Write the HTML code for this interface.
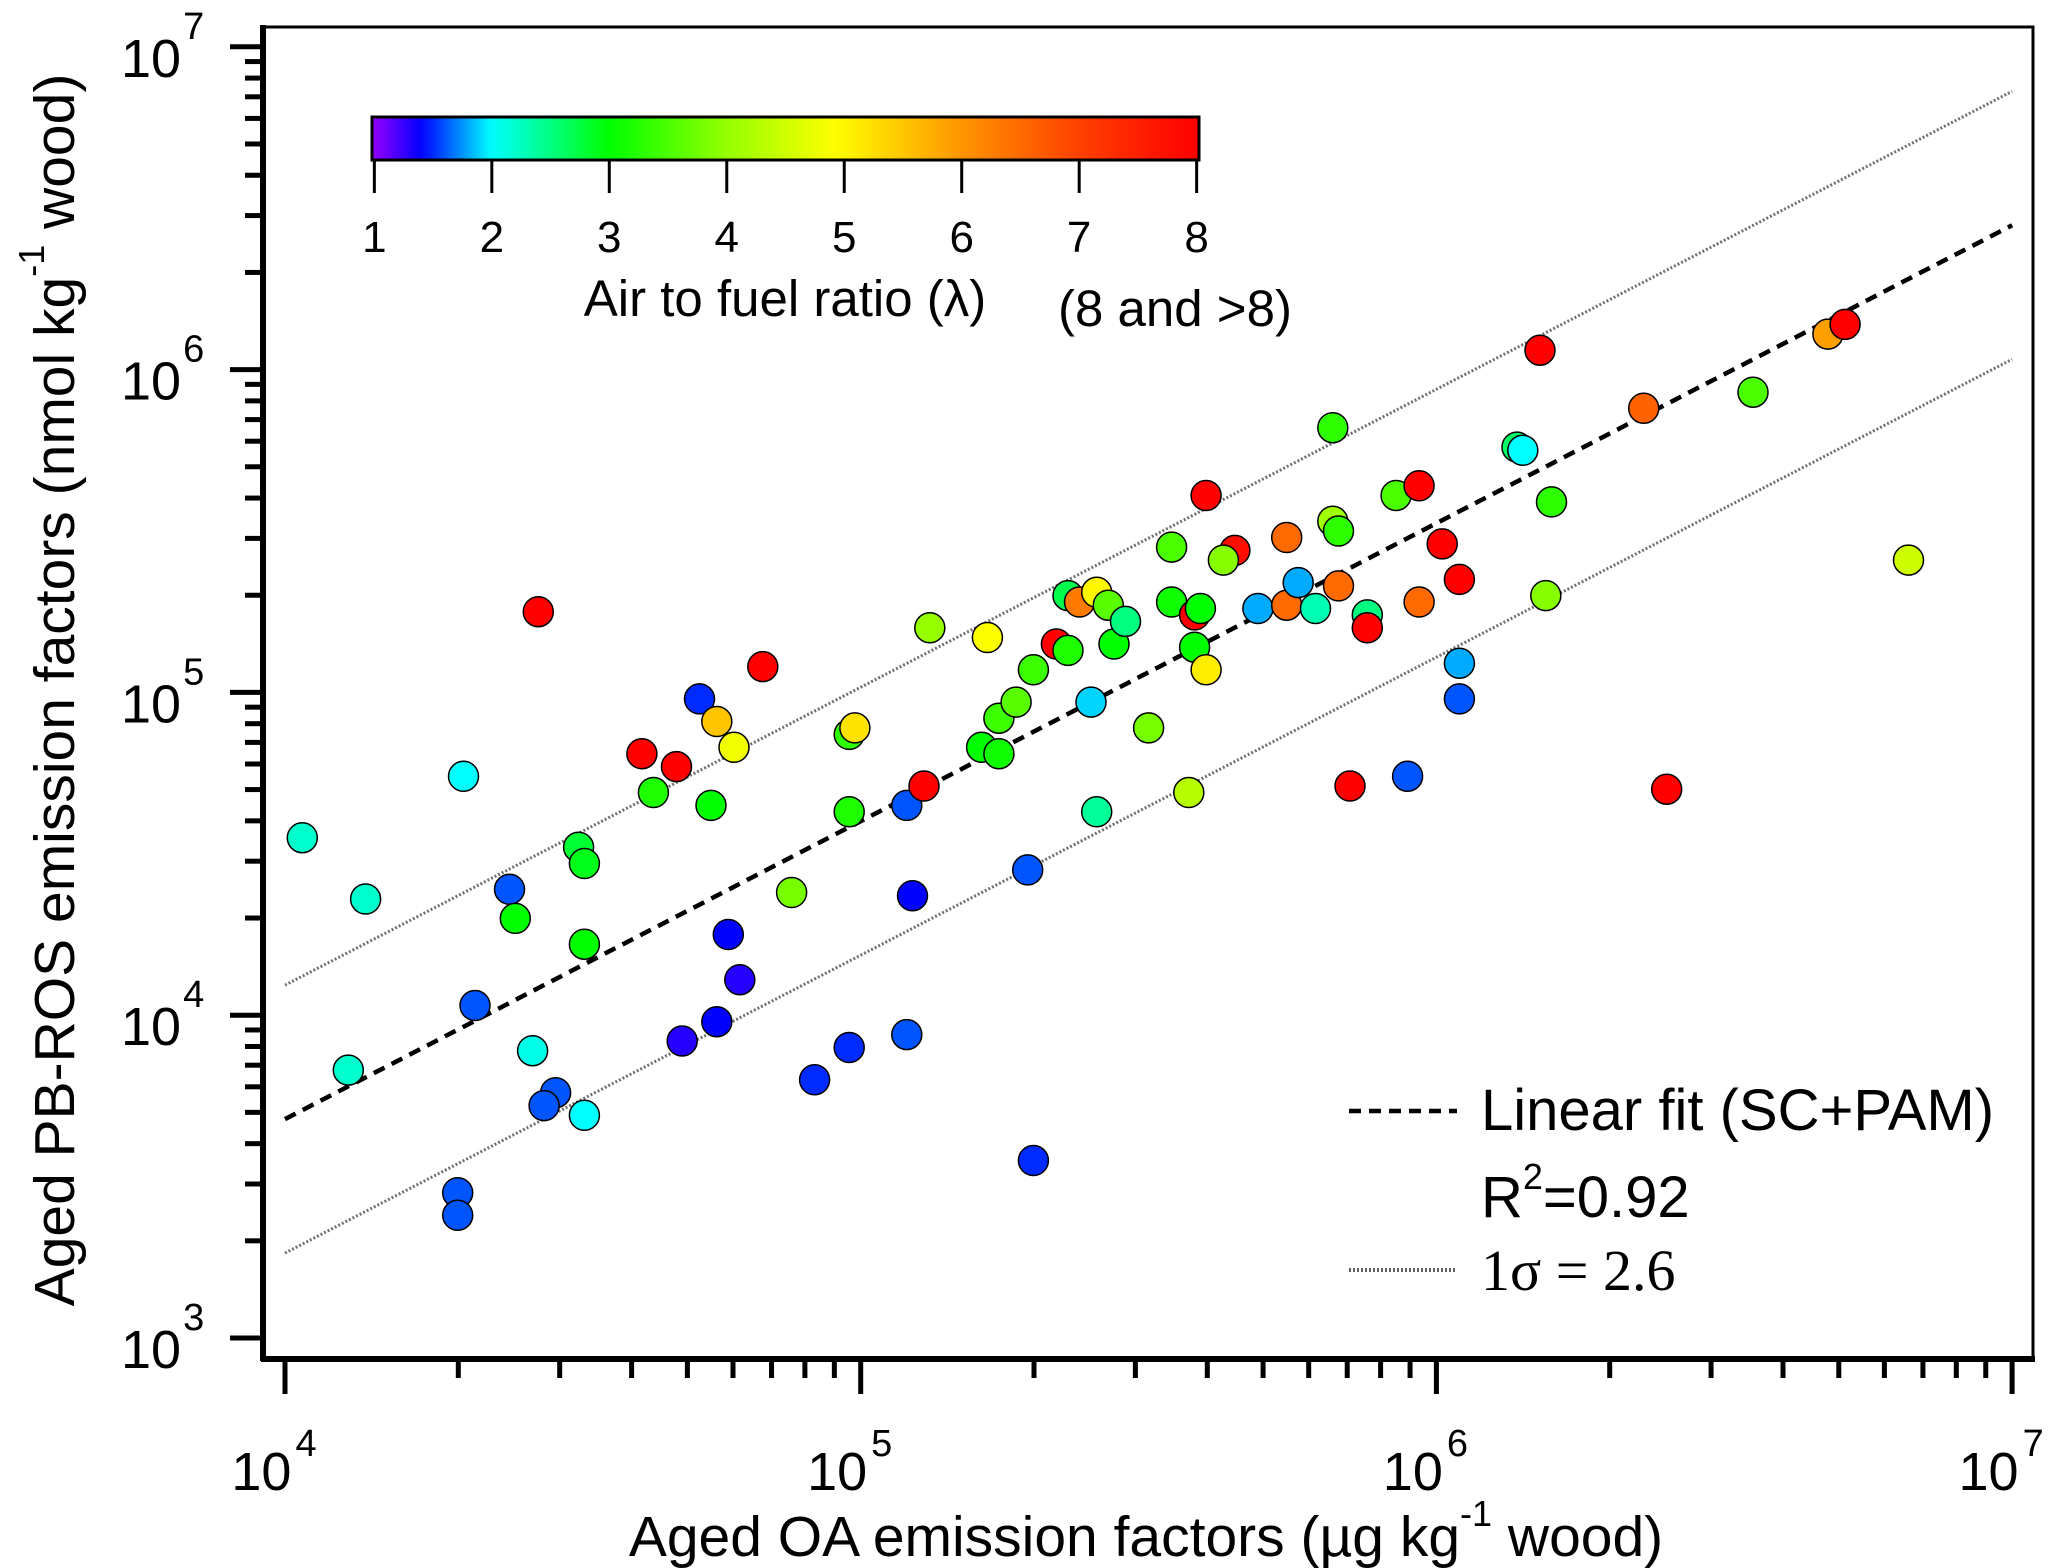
<!DOCTYPE html>
<html><head><meta charset="utf-8"><style>
html,body{margin:0;padding:0;background:#fff}
svg{display:block;font-family:"Liberation Sans",Arial,sans-serif}
</style></head>
<body>
<svg id="chart" width="2067" height="1568" viewBox="0 0 2067 1568" xmlns="http://www.w3.org/2000/svg">
<defs><linearGradient id="cbgrad" x1="0" x2="1" y1="0" y2="0"></linearGradient></defs>
<g id="marks"></g>
<g id="axes"></g>
</svg>
<script>
// log10 of aged OA emission factors (x)
const logOA = [4.03,4.14,4.31,4.44,4.39,4.40,4.33,4.11,4.43,4.47,4.45,4.52,4.30,4.30,4.51,4.52,4.52,4.62,4.68,4.64,
4.74,4.72,4.75,4.78,4.83,4.77,4.79,4.75,4.69,4.88,4.98,4.99,4.98,4.92,4.98,5.08,5.11,5.09,5.08,5.12,
5.22,5.21,5.24,5.24,5.27,5.30,5.34,5.36,5.36,5.38,5.41,5.43,5.44,5.40,5.41,5.29,5.30,5.46,5.50,5.54,
5.54,5.58,5.59,5.58,5.60,5.57,5.60,5.65,5.63,5.69,5.74,5.74,5.76,5.79,5.82,5.82,5.83,5.83,5.88,5.88,
5.85,5.95,5.93,5.97,5.97,6.01,6.04,6.04,6.04,6.14,6.15,6.18,6.20,6.19,6.36,6.40,6.55,6.68,6.71,6.82];
// log10 of aged PB-ROS emission factors (y)
const logROS = [4.55,4.36,4.74,5.25,4.39,4.30,4.03,3.83,3.89,3.76,3.72,3.69,3.45,3.38,4.52,4.47,4.22,4.81,4.77,4.69,
4.65,4.98,4.91,4.83,5.08,4.25,4.11,3.98,3.92,4.38,4.87,4.89,4.63,3.80,3.90,4.65,4.71,4.37,3.94,5.20,
5.17,4.83,4.81,4.92,4.97,5.07,5.15,5.30,5.13,5.28,5.31,5.27,5.15,4.97,4.63,4.45,3.55,5.22,4.89,5.45,
5.28,5.24,5.26,5.14,5.07,4.69,5.61,5.44,5.41,5.26,5.48,5.27,5.34,5.26,5.82,5.53,5.50,5.33,5.24,5.20,
4.71,4.74,5.61,5.64,5.28,5.46,5.35,5.09,4.98,5.76,5.75,6.06,5.59,5.30,5.88,4.70,5.93,6.11,6.14,5.41];
// air to fuel ratio (lambda)
const lambda = [2.2,2.2,2.0,8,1.6,3.0,1.6,2.2,2.1,1.6,1.6,2.0,1.6,1.6,2.8,2.9,3.0,8,8,3.2,
3.0,1.5,5.5,4.8,8,1.4,1.3,1.4,1.3,3.8,3.3,5.2,3.2,1.5,1.5,1.6,8,1.4,1.6,4.0,
4.9,3.0,3.1,3.4,3.6,3.4,8,2.7,3.2,6.3,5.0,3.6,3.0,1.9,2.4,1.6,1.5,2.5,3.8,3.5,
3.1,8,3.0,3.0,5.1,4.3,8,7.8,3.9,1.8,6.5,6.5,1.8,2.3,3.3,4.1,3.3,6.5,2.5,8,
8,1.6,3.5,8,6.5,8,8,1.8,1.6,2.6,2.0,8,3.3,3.9,6.6,8,3.5,5.9,8,4.5];
const xTickExp = [4,5,6,7];
const yTickExp = [3,4,5,6,7];
const cbTicks = [1,2,3,4,5,6,7,8];
const fitIntercept = 3.678, fitSlope = 0.923, sigmaLog = 0.415;

const NS='http://www.w3.org/2000/svg';
const X = l => 285 + (l-4)*575.7;
const Y = l => 1338 - (l-3)*322.8;
function mk(tag, attrs, parent){const e=document.createElementNS(NS,tag);for(const k in attrs)e.setAttribute(k,attrs[k]);parent.appendChild(e);return e;}
const hueStops=[[1,275],[1.4,240],[2,180],[3,120],[4,85],[5,58],[6,35],[7,15],[8,0]];
function colorOf(v){v=Math.max(1,Math.min(8,v));for(let i=0;i<hueStops.length-1;i++){const a=hueStops[i],b=hueStops[i+1];if(v<=b[0]){const h=a[1]+(b[1]-a[1])*(v-a[0])/(b[0]-a[0]);return 'hsl('+h.toFixed(1)+',100%,50%)';}}return 'hsl(0,100%,50%)';}
const svg=document.getElementById('chart'), marks=document.getElementById('marks'), axes=document.getElementById('axes');

function fitLine(off, name, style){
  const l=mk('line',Object.assign({x1:X(4),y1:Y(fitIntercept+off),x2:X(7),y2:Y(fitIntercept+off+fitSlope*3)},style),marks);
  
  
}
fitLine(sigmaLog,'upper-sigma-line',{stroke:'#707070','stroke-width':3,'stroke-dasharray':'2,2'});
fitLine(-sigmaLog,'lower-sigma-line',{stroke:'#707070','stroke-width':3,'stroke-dasharray':'2,2'});
fitLine(0,'linear-fit-line',{stroke:'#000','stroke-width':4.5,'stroke-dasharray':'12,8'});

for(let i=0;i<logOA.length;i++){
  const c=mk('circle',{cx:X(logOA[i]).toFixed(1),cy:Y(logROS[i]).toFixed(1),r:15,fill:colorOf(lambda[i]),stroke:'#000','stroke-width':1.5},marks);
  
  
}

const fr=mk('rect',{x:263,y:27,width:1770,height:1332,fill:'none',stroke:'#000','stroke-width':3},axes);


mk('line',{x1:263,y1:25,x2:263,y2:1361,stroke:'#000','stroke-width':6},axes);
mk('line',{x1:261,y1:1359,x2:2035,y2:1359,stroke:'#000','stroke-width':6},axes);

for(let d=4;d<=7;d++){
  for(let m=1;m<=9;m++){
    if(d===7&&m>1)break;
    const x=X(d+Math.log10(m));
    mk('line',{x1:x,y1:1361,x2:x,y2:m===1?1394:1378,stroke:'#000','stroke-width':5},axes);
  }
}
for(const e of xTickExp){
  const t=mk('text',{x:X(e)-11,y:1490,'font-size':54,'text-anchor':'middle',fill:'#000'},axes);
  t.textContent='10';
  const s=mk('tspan',{dx:4,dy:-34,'font-size':38},t); s.textContent=String(e);
  
  
}
for(let d=3;d<=7;d++){
  for(let m=1;m<=9;m++){
    if(d===7&&m>1)break;
    const y=Y(d+Math.log10(m));
    mk('line',{x1:m===1?230:245,y1:y,x2:261,y2:y,stroke:'#000','stroke-width':5},axes);
  }
}
for(const e of yTickExp){
  const t=mk('text',{x:121,y:Y(e)+30,'font-size':54,fill:'#000'},axes);
  t.textContent='10';
  const s=mk('tspan',{dx:2,dy:-38,'font-size':38},t); s.textContent=String(e);
  
  
}

const xt=mk('text',{x:1146,y:1556,'font-size':57,'text-anchor':'middle',fill:'#000'},axes);
xt.innerHTML='Aged OA emission factors (µg kg<tspan dy="-30" font-size="36">-1</tspan><tspan dy="30"> wood)</tspan>';


const yt=mk('text',{x:0,y:0,'font-size':57,'text-anchor':'middle',fill:'#000',transform:'translate(74,690) rotate(-90)'},axes);
yt.innerHTML='Aged PB-ROS emission factors (nmol kg<tspan dy="-30" font-size="36">-1</tspan><tspan dy="30"> wood)</tspan>';



const cb0=0.98, cb1=8.02, cbx0=372, cbx1=1199;
const CX=v=>cbx0+(v-cb0)/(cb1-cb0)*(cbx1-cbx0);
const grad=document.getElementById('cbgrad');
for(let k=0;k<=70;k++){const v=cb0+(cb1-cb0)*k/70;mk('stop',{offset:(k/70*100).toFixed(2)+'%','stop-color':colorOf(v)},grad);}
const cb=mk('rect',{x:cbx0,y:117,width:cbx1-cbx0,height:43,fill:'url(#cbgrad)',stroke:'#000','stroke-width':3},axes);


for(const v of cbTicks){
  mk('line',{x1:CX(v),y1:160,x2:CX(v),y2:193,stroke:'#000','stroke-width':3},axes);
  const t=mk('text',{x:CX(v),y:252,'font-size':44,'text-anchor':'middle',fill:'#000'},axes);
  t.textContent=String(v);
  
  
}
</script>
<svg style="position:absolute;left:0;top:0" width="2067" height="1568">
<text x="785" y="316" font-size="51" text-anchor="middle" font-family="Liberation Sans, sans-serif">Air to fuel ratio (λ)</text>
<text x="1175" y="326" font-size="51" text-anchor="middle" font-family="Liberation Sans, sans-serif">(8 and &gt;8)</text>
<g font-family="Liberation Sans, sans-serif" font-size="58">
<line x1="1349" y1="1111" x2="1457" y2="1111" stroke="#000" stroke-width="4.5" stroke-dasharray="12,8"/>
<text x="1481" y="1130">Linear fit (SC+PAM)</text>
<text x="1481" y="1217">R<tspan dy="-28" font-size="36">2</tspan><tspan dy="28">=0.92</tspan></text>
<line x1="1349" y1="1270" x2="1457" y2="1270" stroke="#606060" stroke-width="4" stroke-dasharray="2,2"/>
<text x="1481" y="1290" font-family="Liberation Serif, serif" font-size="58">1σ = 2.6</text>
</g>
</svg>
</body></html>
